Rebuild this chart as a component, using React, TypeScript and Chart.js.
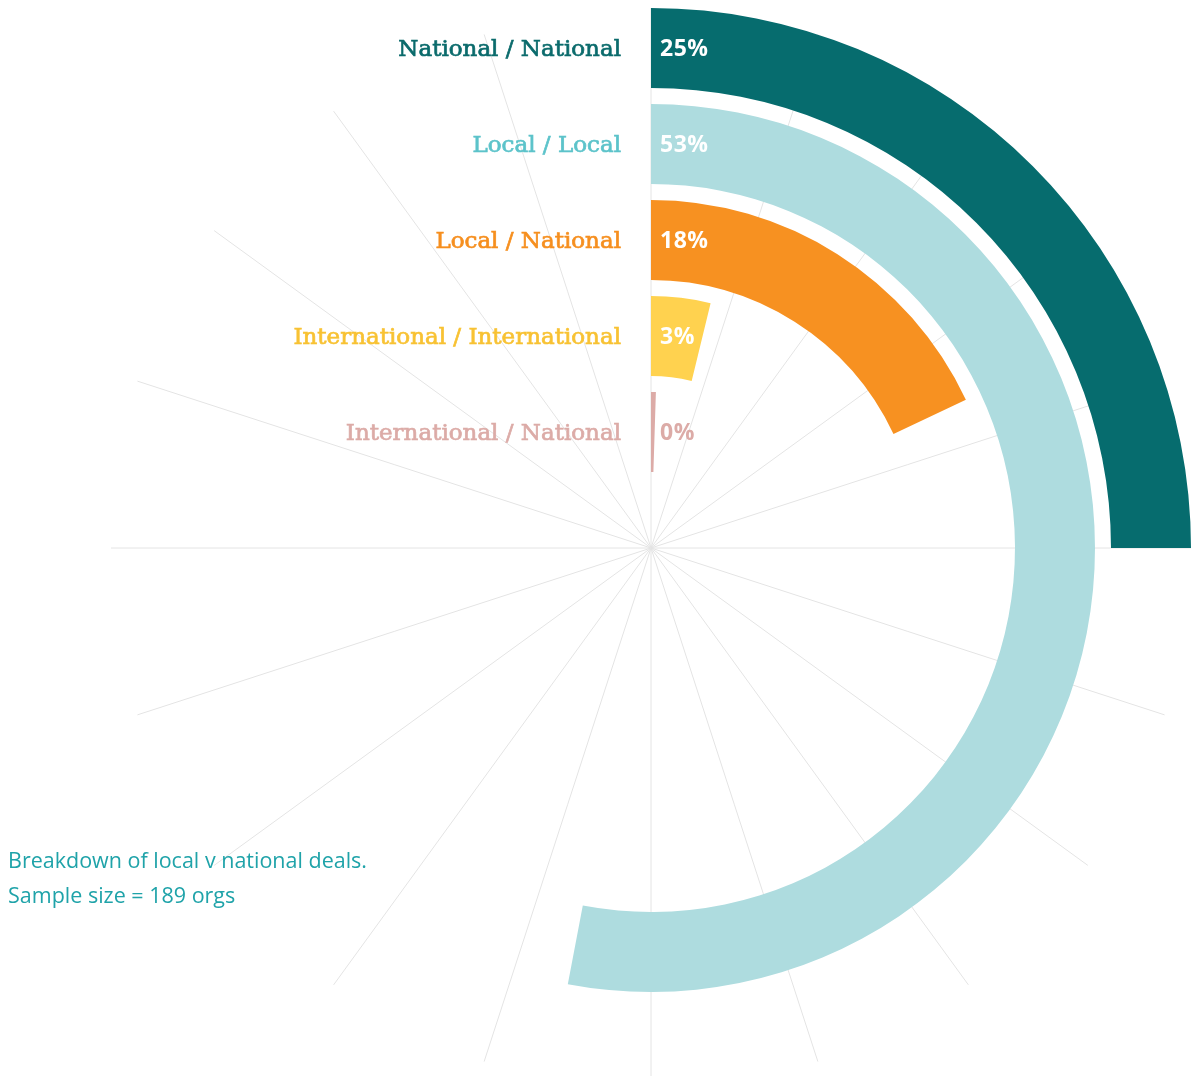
import React, { useEffect, useRef } from "react";
import { Chart, registerables } from "chart.js";

Chart.register(...registerables);

// ---- data ----
const categories = [
  "National / National",
  "Local / Local",
  "Local / National",
  "International / International",
  "International / National",
];
const shares = [25, 53, 18, 3.8, 0.5];
// printed labels
const shareLabels = ["25%", "53%", "18%", "3%", "0%"];
const barColors = ["#066c6e", "#aedcdf", "#f79121", "#ffd24f", "#dcaba7"];
const labelColors = ["#0b6b6c", "#5cc3ca", "#f68f1f", "#f8c233", "#dcaba7"];
const valueLabelColors = ["#ffffff", "#ffffff", "#ffffff", "#ffffff", "#dcaba7"];
const spokeLabels = ["", "", "", "", "", "", "", "", "", "", "", "", "", "", "", "", "", "", "", ""];
const captionLines = ["Breakdown of local v national deals.", "Sample size = 189 orgs"];
const TOTAL = 100;

function buildDatasets() {
  const ds: any[] = [];
  categories.forEach((cat, i) => {
    if (i > 0) {
      ds.push({
        label: "gap",
        data: [TOTAL],
        backgroundColor: ["rgba(0,0,0,0)"],
        borderWidth: 0,
        weight: 1,
      });
    }
    ds.push({
      label: cat,
      data: [shares[i], TOTAL - shares[i]],
      backgroundColor: [barColors[i], "rgba(0,0,0,0)"],
      borderWidth: 0,
      weight: 5,
      ringIndex: i,
    });
  });
  return ds;
}

const ringLabelPlugin = {
  id: "ringLabels",
  afterDatasetsDraw(chart: any) {
    const ctx = chart.ctx as CanvasRenderingContext2D;
    chart.data.datasets.forEach((ds: any, di: number) => {
      if (ds.ringIndex === undefined) return;
      const i = ds.ringIndex;
      const arc = chart.getDatasetMeta(di).data[0];
      const { x, y, innerRadius, outerRadius } = arc.getProps(
        ["x", "y", "innerRadius", "outerRadius"],
        true
      );
      const ty = y - (innerRadius + outerRadius) / 2;
      ctx.save();
      // category label
      ctx.font = '23px "DejaVu Serif"';
      ctx.textAlign = "right";
      ctx.textBaseline = "alphabetic";
      ctx.fillStyle = labelColors[i];
      ctx.strokeStyle = labelColors[i];
      ctx.lineWidth = 0.7;
      ctx.fillText(categories[i], x - 30, ty + 8);
      ctx.strokeText(categories[i], x - 30, ty + 8);
      // value label
      ctx.font = 'bold 23px "Open Sans"';
      (ctx as any).letterSpacing = "0.5px";
      ctx.textAlign = "left";
      ctx.fillStyle = valueLabelColors[i];
      ctx.fillText(shareLabels[i], x + 9, ty + 8);
      ctx.restore();
    });
  },
};

export default function App() {
  const canvasRef = useRef<HTMLCanvasElement>(null);

  useEffect(() => {
    const chart = new Chart(canvasRef.current as HTMLCanvasElement, {
      type: "doughnut",
      data: {
        labels: spokeLabels,
        datasets: buildDatasets(),
      },
      options: {
        responsive: true,
        maintainAspectRatio: false,
        animation: false,
        events: [],
        cutout: "14.07%",
        layout: { padding: { left: 111, right: 1, top: 8, bottom: 8 } },
        plugins: {
          legend: { display: false },
          tooltip: { enabled: false },
        },
        scales: {
          r: {
            type: "radialLinear",
            min: 0,
            max: 100,
            grid: { display: false },
            ticks: { display: false },
            pointLabels: { display: false },
            angleLines: { display: true, color: "#e4e4e4", lineWidth: 1 },
          },
        },
      } as any,
      plugins: [ringLabelPlugin],
    });
    return () => chart.destroy();
  }, []);

  return (
    <div
      style={{
        position: "absolute",
        left: 0,
        top: 0,
        width: 1192,
        height: 1076,
        overflow: "hidden",
        background: "#ffffff",
      }}
    >
      <div style={{ position: "absolute", left: 0, top: 0, width: 1192, height: 1096 }}>
        <canvas ref={canvasRef} />
      </div>
      <div
        style={{
          position: "absolute",
          left: 8,
          top: 842,
          fontFamily: '"Open Sans", sans-serif',
          fontWeight: 400,
          fontSize: 21.5,
          lineHeight: "35px",
          color: "#1fa3a9",
          whiteSpace: "nowrap",
        }}
      >
        {captionLines.map((l) => (
          <div key={l}>{l}</div>
        ))}
      </div>
    </div>
  );
}
